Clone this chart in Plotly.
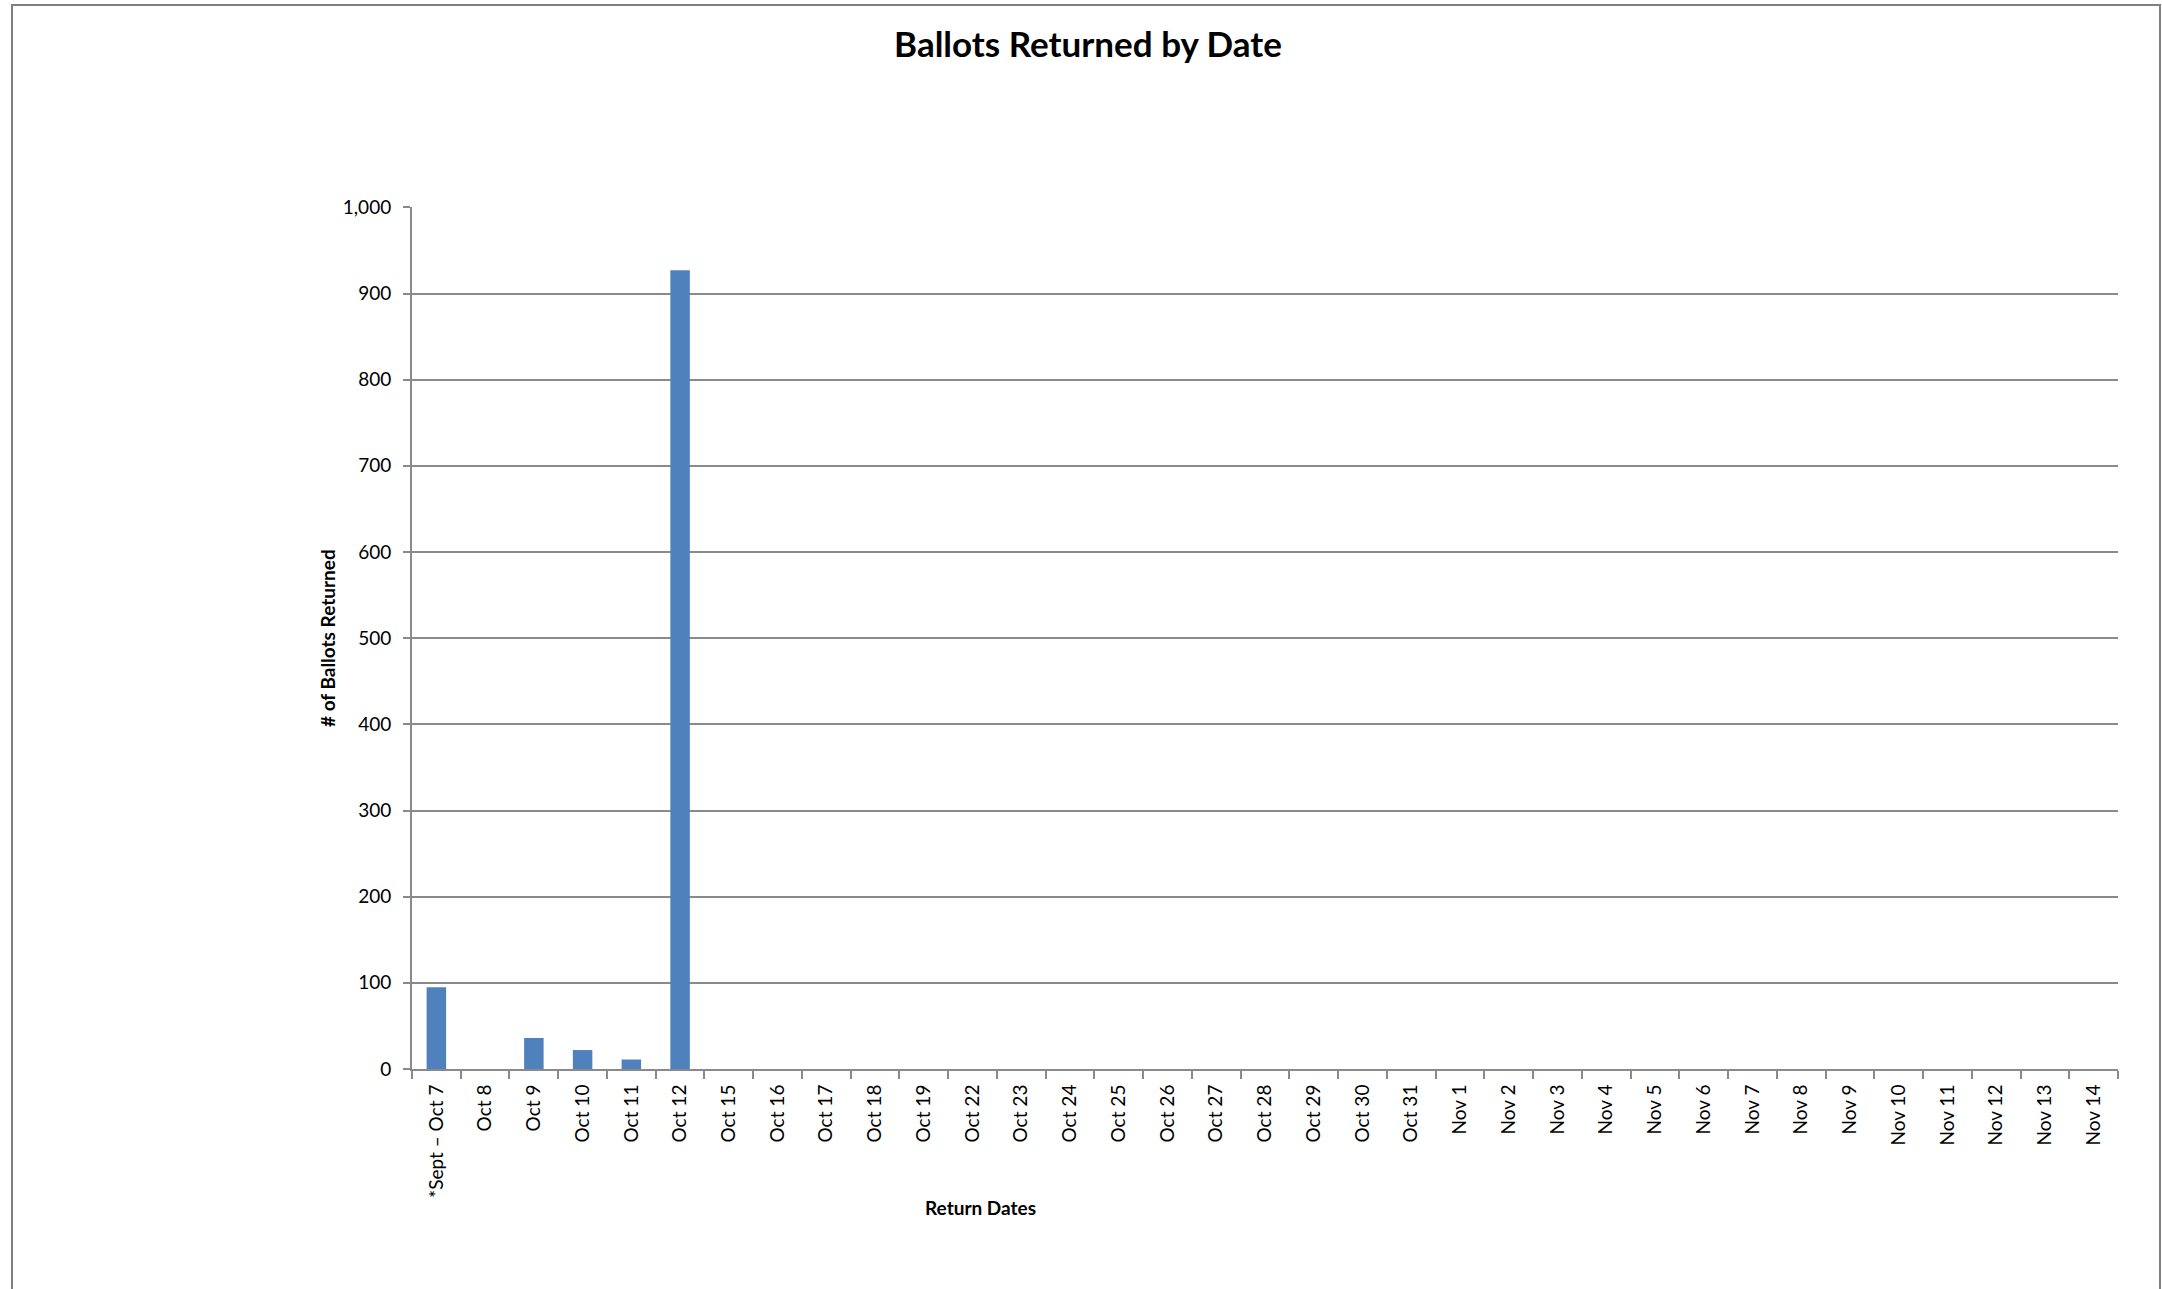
import plotly.graph_objects as go

# return dates (category labels) and ballots returned on each
dates = ["*Sept \u2013 Oct 7", "Oct 8", "Oct 9", "Oct 10", "Oct 11", "Oct 12",
         "Oct 15", "Oct 16", "Oct 17", "Oct 18", "Oct 19",
         "Oct 22", "Oct 23", "Oct 24", "Oct 25", "Oct 26", "Oct 27", "Oct 28",
         "Oct 29", "Oct 30", "Oct 31",
         "Nov 1", "Nov 2", "Nov 3", "Nov 4", "Nov 5", "Nov 6", "Nov 7",
         "Nov 8", "Nov 9", "Nov 10", "Nov 11", "Nov 12", "Nov 13", "Nov 14"]
ballots = [95, 0, 36, 22, 11, 927] + [0] * 29
y_ticks = [0, 100, 200, 300, 400, 500, 600, 700, 800, 900, 1000]

W, H = 2162, 1289
ml, mt = 412, 207
mr = W - 2118
mb = H - 1069
pw, ph = W - ml - mr, H - mt - mb

def px_x(x):
    return (x - ml) / pw

def px_y(y):
    return (H - mb - y) / ph

grey = "#8a8a8a"
pos = list(range(len(dates)))

fig = go.Figure()
fig.add_trace(go.Bar(x=pos, y=ballots, marker=dict(color="#4F81BD", line=dict(width=0)),
                     width=0.4, showlegend=False))

fig.update_layout(
    width=W, height=H,
    margin=dict(l=ml, r=mr, t=mt, b=mb),
    paper_bgcolor="white", plot_bgcolor="white",
    font=dict(family="Lato", color="black", size=19),
    title=dict(text="<b>Ballots Returned by Date</b>", x=1088 / W,
               xanchor="center", xref="container",
               y=1 - 45 / H, yanchor="middle", font=dict(size=35, family="Lato")),
    xaxis=dict(range=[-0.5, len(dates) - 0.5], tickvals=pos, ticktext=dates,
               tickangle=-90, ticks="", showgrid=False, zeroline=False,
               showline=True, linecolor=grey, linewidth=2, ticklabelstandoff=6,
               minor=dict(ticks="outside", tick0=-0.5, dtick=1, ticklen=8,
                          tickcolor=grey, tickwidth=2, showgrid=False),
               tickfont=dict(size=19)),
    yaxis=dict(range=[0, 1000.4], tickvals=y_ticks, tickformat=",d",
               ticks="outside", ticklen=7, tickcolor=grey, tickwidth=2,
               showgrid=True, gridcolor=grey, gridwidth=1.5, zeroline=False,
               showline=True, linecolor=grey, linewidth=2, ticklabelstandoff=8,
               tickfont=dict(size=19)),
    bargap=0.6,
)

fig.add_annotation(text="<b># of Ballots Returned</b>", xref="paper", yref="paper",
                   x=px_x(327), y=0.5, textangle=-90, showarrow=False,
                   font=dict(size=19), xanchor="center", yanchor="middle")
fig.add_annotation(text="<b>Return Dates</b>", xref="paper", yref="paper",
                   x=px_x(980), y=px_y(1207), showarrow=False,
                   font=dict(size=19), xanchor="center", yanchor="middle")

# chart frame
fig.add_shape(type="rect", xref="paper", yref="paper",
              x0=px_x(12), x1=px_x(2160), y0=px_y(1330), y1=px_y(5),
              line=dict(color="#808080", width=2), fillcolor="rgba(0,0,0,0)")

# drop the default body margin so the figure fills the window exactly
fig.write_html("out.html", config={"displayModeBar": False},
               post_script="document.body.style.margin='0';document.body.style.overflow='hidden';")
